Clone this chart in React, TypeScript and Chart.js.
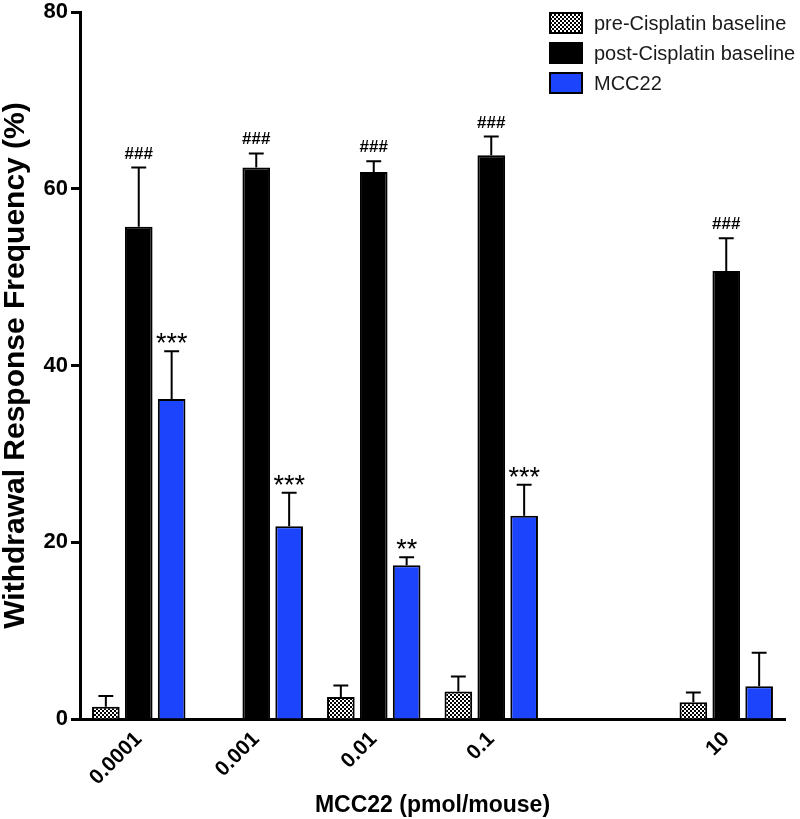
import React, { useEffect, useRef } from 'react';
import { Chart, registerables } from 'chart.js';

Chart.register(...registerables);

const categories = ['0.0001', '0.001', '0.01', '0.1', '', '10'];
const seriesLabels = ['pre-Cisplatin baseline', 'post-Cisplatin baseline', 'MCC22'];
const preValues = [1.4, null, 2.5, 3.1, null, 1.9];
const preErrors = [1.2, null, 1.3, 1.7, null, 1.1];
const postValues = [55.7, 62.4, 61.9, 63.8, null, 50.7];
const postErrors = [6.7, 1.6, 1.2, 2.1, null, 3.7];
const mccValues = [36.2, 21.8, 17.4, 23.0, null, 3.7];
const mccErrors = [5.4, 3.8, 0.9, 3.5, null, 3.8];
const postMarks = ['###', '###', '###', '###', '', '###'];
const mccMarks = ['***', '***', '**', '***', '', ''];
const yTicks = [0, 20, 40, 60, 80];
const yTitle = 'Withdrawal Response Frequency (%)';
const xTitle = 'MCC22 (pmol/mouse)';

const FONT = 'Arial, "Liberation Sans", Helvetica, sans-serif';
const BLUE = '#1c44fc';

export default function App() {
  const canvasRef = useRef<HTMLCanvasElement | null>(null);

  useEffect(() => {
    const canvas = canvasRef.current;
    if (!canvas) return;
    const ctx = canvas.getContext('2d')!;

    const pc = document.createElement('canvas');
    pc.width = 4;
    pc.height = 4;
    const pctx = pc.getContext('2d')!;
    pctx.fillStyle = '#ffffff';
    pctx.fillRect(0, 0, 4, 4);
    pctx.fillStyle = '#000000';
    pctx.fillRect(0, 0, 2, 2);
    pctx.fillRect(2, 2, 2, 2);
    const pattern = ctx.createPattern(pc, 'repeat')!;

    const errorSets = [preErrors, postErrors, mccErrors];
    const markSets: (string[] | null)[] = [null, postMarks, mccMarks];

    const overlayPlugin = {
      id: 'overlay',
      afterDatasetsDraw(chart: any) {
        const c = chart.ctx as CanvasRenderingContext2D;
        const yScale = chart.scales.y;
        c.save();
        chart.data.datasets.forEach((ds: any, i: number) => {
          const meta = chart.getDatasetMeta(i);
          meta.data.forEach((el: any, j: number) => {
            const v = ds.data[j];
            const e = errorSets[i][j];
            if (v == null || e == null) return;
            const x = el.x;
            const w = el.width;
            const yTop = yScale.getPixelForValue(v);
            const yCap = yScale.getPixelForValue(v + e);
            c.strokeStyle = '#000';
            c.lineWidth = 2;
            c.beginPath();
            c.moveTo(x, yTop);
            c.lineTo(x, yCap);
            c.moveTo(x - w * 0.27, yCap);
            c.lineTo(x + w * 0.27, yCap);
            c.stroke();
            const marks = markSets[i];
            const m = marks ? marks[j] : '';
            if (m) {
              c.fillStyle = '#000';
              c.textAlign = 'center';
              c.textBaseline = 'alphabetic';
              if (i === 1) {
                c.font = `bold 17px ${FONT}`;
                c.fillText(m, x, yCap - 9);
              } else {
                c.font = `27px ${FONT}`;
                c.fillText(m, x, yCap + 1);
              }
            }
          });
        });
        c.restore();
      },
      afterDraw(chart: any) {
        const c = chart.ctx as CanvasRenderingContext2D;
        const area = chart.chartArea;
        c.save();
        const boxLeft = area.left + 470;
        chart.data.datasets.forEach((ds: any, i: number) => {
          const top = area.top + 1 + i * 30;
          c.fillStyle = ds.backgroundColor;
          c.fillRect(boxLeft, top, 32, 20);
          c.strokeStyle = '#000';
          c.lineWidth = 2;
          c.strokeRect(boxLeft, top, 32, 20);
          c.fillStyle = '#1a1a1a';
          c.font = `20px ${FONT}`;
          c.textAlign = 'left';
          c.textBaseline = 'middle';
          c.fillText(ds.label, boxLeft + 44, top + 11);
        });
        c.restore();
      },
    };

    const chart = new Chart(ctx, {
      type: 'bar',
      data: {
        labels: categories,
        datasets: [
          { label: seriesLabels[0], data: preValues as any, backgroundColor: pattern as any, borderColor: '#000', borderWidth: 2 },
          { label: seriesLabels[1], data: postValues as any, backgroundColor: '#000', borderColor: '#000', borderWidth: 2 },
          { label: seriesLabels[2], data: mccValues as any, backgroundColor: BLUE, borderColor: '#000', borderWidth: 2 },
        ],
      },
      options: {
        responsive: false,
        animation: false,
        layout: { padding: { top: 12, right: 15, left: 0, bottom: 0 } },
        font: { family: FONT },
        datasets: { bar: { categoryPercentage: 0.84, barPercentage: 0.84 } },
        plugins: {
          legend: { display: false },
          tooltip: { enabled: false },
        },
        scales: {
          x: {
            grid: { display: false, drawTicks: false },
            border: { display: true, width: 3, color: '#000' },
            ticks: {
              autoSkip: false,
              maxRotation: 45,
              minRotation: 45,
              padding: 8,
              color: '#000',
              font: { family: FONT, size: 21, weight: 'bold' },
            },
            title: {
              display: true,
              text: xTitle,
              color: '#000',
              font: { family: FONT, size: 23, weight: 'bold' },
              padding: { top: 0, bottom: 0 },
            },
            afterFit: (s: any) => {
              s.height = 100;
              s.paddingLeft = 0;
              s.paddingRight = 0;
            },
          },
          y: {
            min: 0,
            max: 80,
            afterBuildTicks: (s: any) => {
              s.ticks = yTicks.map((v) => ({ value: v }));
            },
            grid: { drawOnChartArea: false, drawTicks: true, tickLength: 9, tickWidth: 3, tickColor: '#000' },
            border: { display: true, width: 3, color: '#000' },
            ticks: {
              padding: 3,
              color: '#000',
              font: { family: FONT, size: 22, weight: 'bold' },
            },
            title: {
              display: true,
              text: yTitle,
              color: '#000',
              font: { family: FONT, size: 30, weight: 'bold', lineHeight: 1 },
              padding: { top: 1, bottom: 0 },
            },
            afterFit: (s: any) => {
              s.width = 80;
              s.paddingTop = 0;
              s.paddingBottom = 0;
            },
          },
        },
      } as any,
      plugins: [overlayPlugin],
    });

    return () => chart.destroy();
  }, []);

  return (
    <div style={{ position: 'absolute', left: 0, top: 0, width: 800, height: 819, background: '#fff' }}>
      <canvas ref={canvasRef} width={800} height={819} style={{ display: 'block', width: 800, height: 819 }} />
    </div>
  );
}
